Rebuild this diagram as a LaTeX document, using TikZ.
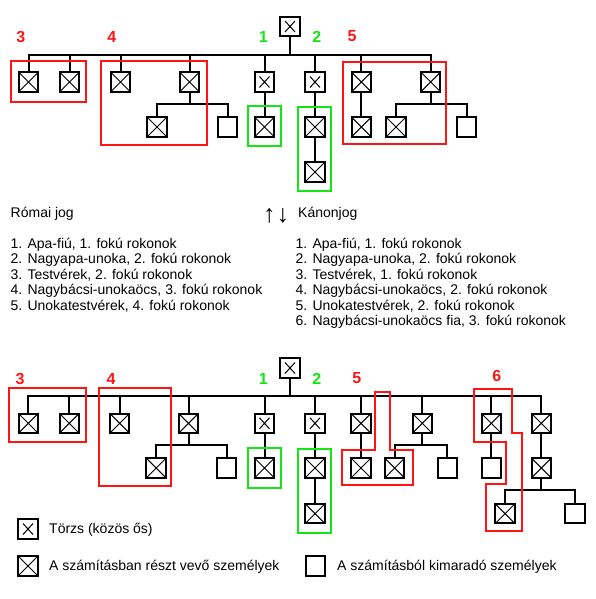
\documentclass[tikz,border=0pt]{standalone}
\usepackage{fontspec}
\setmainfont{Liberation Sans}
\definecolor{framered}{RGB}{255,20,20}
\definecolor{framegreen}{RGB}{20,230,20}
\tikzset{
  person/.style={draw, line width=2pt, fill=white, minimum size=19.5pt, inner sep=0pt},
  counted/.style={person, path picture={\draw[line width=1pt] (path picture bounding box.south west) -- (path picture bounding box.north east) (path picture bounding box.north west) -- (path picture bounding box.south east);}},
  stem/.style={person, path picture={\draw[line width=1pt] ([shift={(-5pt,-5.5pt)}]path picture bounding box.center) -- ([shift={(5pt,5.5pt)}]path picture bounding box.center) ([shift={(-5pt,5.5pt)}]path picture bounding box.center) -- ([shift={(5pt,-5.5pt)}]path picture bounding box.center);}},
  link/.style={line width=2pt},
  redframe/.style={draw=framered, line width=2pt},
  greenframe/.style={draw=framegreen, line width=2pt},
  rednum/.style={text=framered, font=\fontsize{16}{16}\selectfont\bfseries, inner sep=0pt},
  greennum/.style={rednum, text=framegreen},
  listtext/.style={font=\fontsize{14}{16}\selectfont, inner sep=0pt, anchor=base west}
}
\begin{document}
\begin{tikzpicture}[x=1pt, y=-1pt]
			%%%%% START %%%%%
			\useasboundingbox[fill=white] (0,0) rectangle (596,599);
			
			%%%%% upper tree (Roman law)
			\node[stem] (t0) at (290,26.5) {};
			\node[counted] (ta) at (28.5,82) {};
			\node[counted] (tb) at (69.5,82) {};
			\node[counted] (tc) at (120.5,82) {};
			\node[counted] (td) at (189.5,82) {};
			\node[stem] (te) at (264.5,82) {};
			\node[stem] (tf) at (315,82) {};
			\node[counted] (tg) at (361.3,82) {};
			\node[counted] (th) at (430.7,82) {};
			
			\node[counted] (tda) at (157,127) {};
			\node[person] (tdb) at (227.5,127) {};
			\node[counted] (tea) at (264.5,127) {};
			\node[counted] (tfa) at (315,127) {};
			\node[counted] (tga) at (361.3,127) {};
			\node[counted] (tha) at (396,127) {};
			\node[person] (thb) at (466.7,127) {};
			\node[counted] (tfaa) at (315,172) {};
			
			\foreach \c in {ta,tb,tc,td,te,tf,tg,th}
				\draw[link] (t0.south) -- ++(0,18) -| (\c.north);
			\foreach \c in {tda,tdb}
				\draw[link] (td.south) -- ++(0,11) -| (\c.north);
			\foreach \c in {tha,thb}
				\draw[link] (th.south) -- ++(0,11) -| (\c.north);
			\draw[link] (te) -- (tea);
			\draw[link] (tf) -- (tfa) -- (tfaa);
			\draw[link] (tg) -- (tga);
			
			\draw[redframe] (10.7,61) rectangle (86,101.7);
			\draw[redframe] (100.7,61) rectangle (206.7,144.7);
			\draw[redframe] (342.7,62) rectangle (446.3,144);
			\draw[greenframe] (247.7,106) rectangle (280.7,146);
			\draw[greenframe] (298.3,106.7) rectangle (331.3,191.3);
			
			\node[rednum] (tn3) at (20.7,37) {3};
			\node[rednum] (tn4) at (111.7,37) {4};
			\node[greennum] (tn1) at (263.3,37) {1};
			\node[greennum] (tn2) at (316.7,37) {2};
			\node[rednum] (tn5) at (352,36) {5};
			
			%%%%% texts
			\node[listtext] (rom) at (10.5,217.3) {Római jog};
			\node[listtext] (kan) at (298,217.3) {Kánonjog};
			\node[font=\fontsize{25}{25}\selectfont, inner sep=0pt] (arr) at (276,215.5) {↑\kern1pt↓};
			
			\node[listtext] (rom1) at (10.5,248.3) {1. Apa-fiú, 1. fokú rokonok};
			\node[listtext] (rom2) at (10.5,263.8) {2. Nagyapa-unoka, 2. fokú rokonok};
			\node[listtext] (rom3) at (10.5,279.3) {3. Testvérek, 2. fokú rokonok};
			\node[listtext] (rom4) at (10.5,294.8) {4. Nagybácsi-unokaöcs, 3. fokú rokonok};
			\node[listtext] (rom5) at (10.5,310.3) {5. Unokatestvérek, 4. fokú rokonok};
			
			\node[listtext] (kan1) at (295.5,248.3) {1. Apa-fiú, 1. fokú rokonok};
			\node[listtext] (kan2) at (295.5,263.8) {2. Nagyapa-unoka, 2. fokú rokonok};
			\node[listtext] (kan3) at (295.5,279.3) {3. Testvérek, 1. fokú rokonok};
			\node[listtext] (kan4) at (295.5,294.8) {4. Nagybácsi-unokaöcs, 2. fokú rokonok};
			\node[listtext] (kan5) at (295.5,310.3) {5. Unokatestvérek, 2. fokú rokonok};
			\node[listtext] (kan6) at (295.5,325.8) {6. Nagybácsi-unokaöcs fia, 3. fokú rokonok};
			
			%%%%% lower tree (canon law)
			\node[stem] (b0) at (290,368) {};
			\node[counted] (ba) at (28.3,423.3) {};
			\node[counted] (bb) at (69.3,423.3) {};
			\node[counted] (bc) at (119.7,423.3) {};
			\node[counted] (bd) at (188.5,423.3) {};
			\node[stem] (be) at (264.5,423.3) {};
			\node[stem] (bf) at (315,423.3) {};
			\node[counted] (bg) at (361,423.3) {};
			\node[counted] (bh) at (422.3,423.3) {};
			\node[counted] (bi) at (491.3,423.3) {};
			\node[counted] (bj) at (541.3,423.3) {};
			
			\node[counted] (bda) at (156.2,468) {};
			\node[person] (bdb) at (226.7,468) {};
			\node[counted] (bea) at (264.5,468) {};
			\node[counted] (bfa) at (315,468) {};
			\node[counted] (bga) at (361,468) {};
			\node[counted] (bha) at (394.7,468) {};
			\node[person] (bhb) at (447.3,468) {};
			\node[person] (bia) at (491.3,468) {};
			\node[counted] (bja) at (541.3,468) {};
			\node[counted] (bfaa) at (315,513.7) {};
			\node[counted] (bjaa) at (505,513.7) {};
			\node[person] (bjab) at (575,513.7) {};
			
			\foreach \c in {ba,bb,bc,bd,be,bf,bg,bh,bi,bj}
				\draw[link] (b0.south) -- ++(0,17.3) -| (\c.north);
			\foreach \c in {bda,bdb}
				\draw[link] (bd.south) -- ++(0,11.3) -| (\c.north);
			\foreach \c in {bha,bhb}
				\draw[link] (bh.south) -- ++(0,11.3) -| (\c.north);
			\foreach \c in {bjaa,bjab}
				\draw[link] (bja.south) -- ++(0,11.3) -| (\c.north);
			\draw[link] (be) -- (bea);
			\draw[link] (bf) -- (bfa) -- (bfaa);
			\draw[link] (bg) -- (bga);
			\draw[link] (bi) -- (bia);
			\draw[link] (bj) -- (bja);
			
			\draw[redframe] (9.3,388.3) rectangle (85.7,442.3);
			\draw[redframe] (99.3,388.3) rectangle (171,486);
			\draw[greenframe] (247.7,447.7) rectangle (280.7,488.3);
			\draw[greenframe] (298.3,448.7) rectangle (331.3,533);
			\draw[redframe] (341.7,485) -- (341.7,450) -- (375.3,450) -- (375.3,391.7) -- (390,391.7) -- (390,450) -- (412.7,450) -- (412.7,485) -- cycle;
			\draw[redframe] (474.3,389) -- (511.7,389) -- (511.7,432.7) -- (522.3,432.7) -- (522.3,531) -- (485.7,531) -- (485.7,484.3) -- (506,484.3) -- (506,441.7) -- (474.3,441.7) -- cycle;
			
			\node[rednum] (bn3) at (20,379.3) {3};
			\node[rednum] (bn4) at (111,379) {4};
			\node[greennum] (bn1) at (263.3,379) {1};
			\node[greennum] (bn2) at (316.7,379) {2};
			\node[rednum] (bn5) at (356.7,378) {5};
			\node[rednum] (bn6) at (496.7,376) {6};
			
			%%%%% legend
			\node[stem] (legstem) at (28,529) {};
			\node[listtext] (legstemtext) at (49,533.3) {Törzs (közös ős)};
			\node[counted] (legcounted) at (28,566) {};
			\node[listtext] (legcountedtext) at (49,570) {A számításban részt vevő személyek};
			\node[person] (legplain) at (315.5,566) {};
			\node[listtext] (legplaintext) at (337,570) {A számításból kimaradó személyek};
			
			%%%%% END %%%%%
\end{tikzpicture}
\end{document}
